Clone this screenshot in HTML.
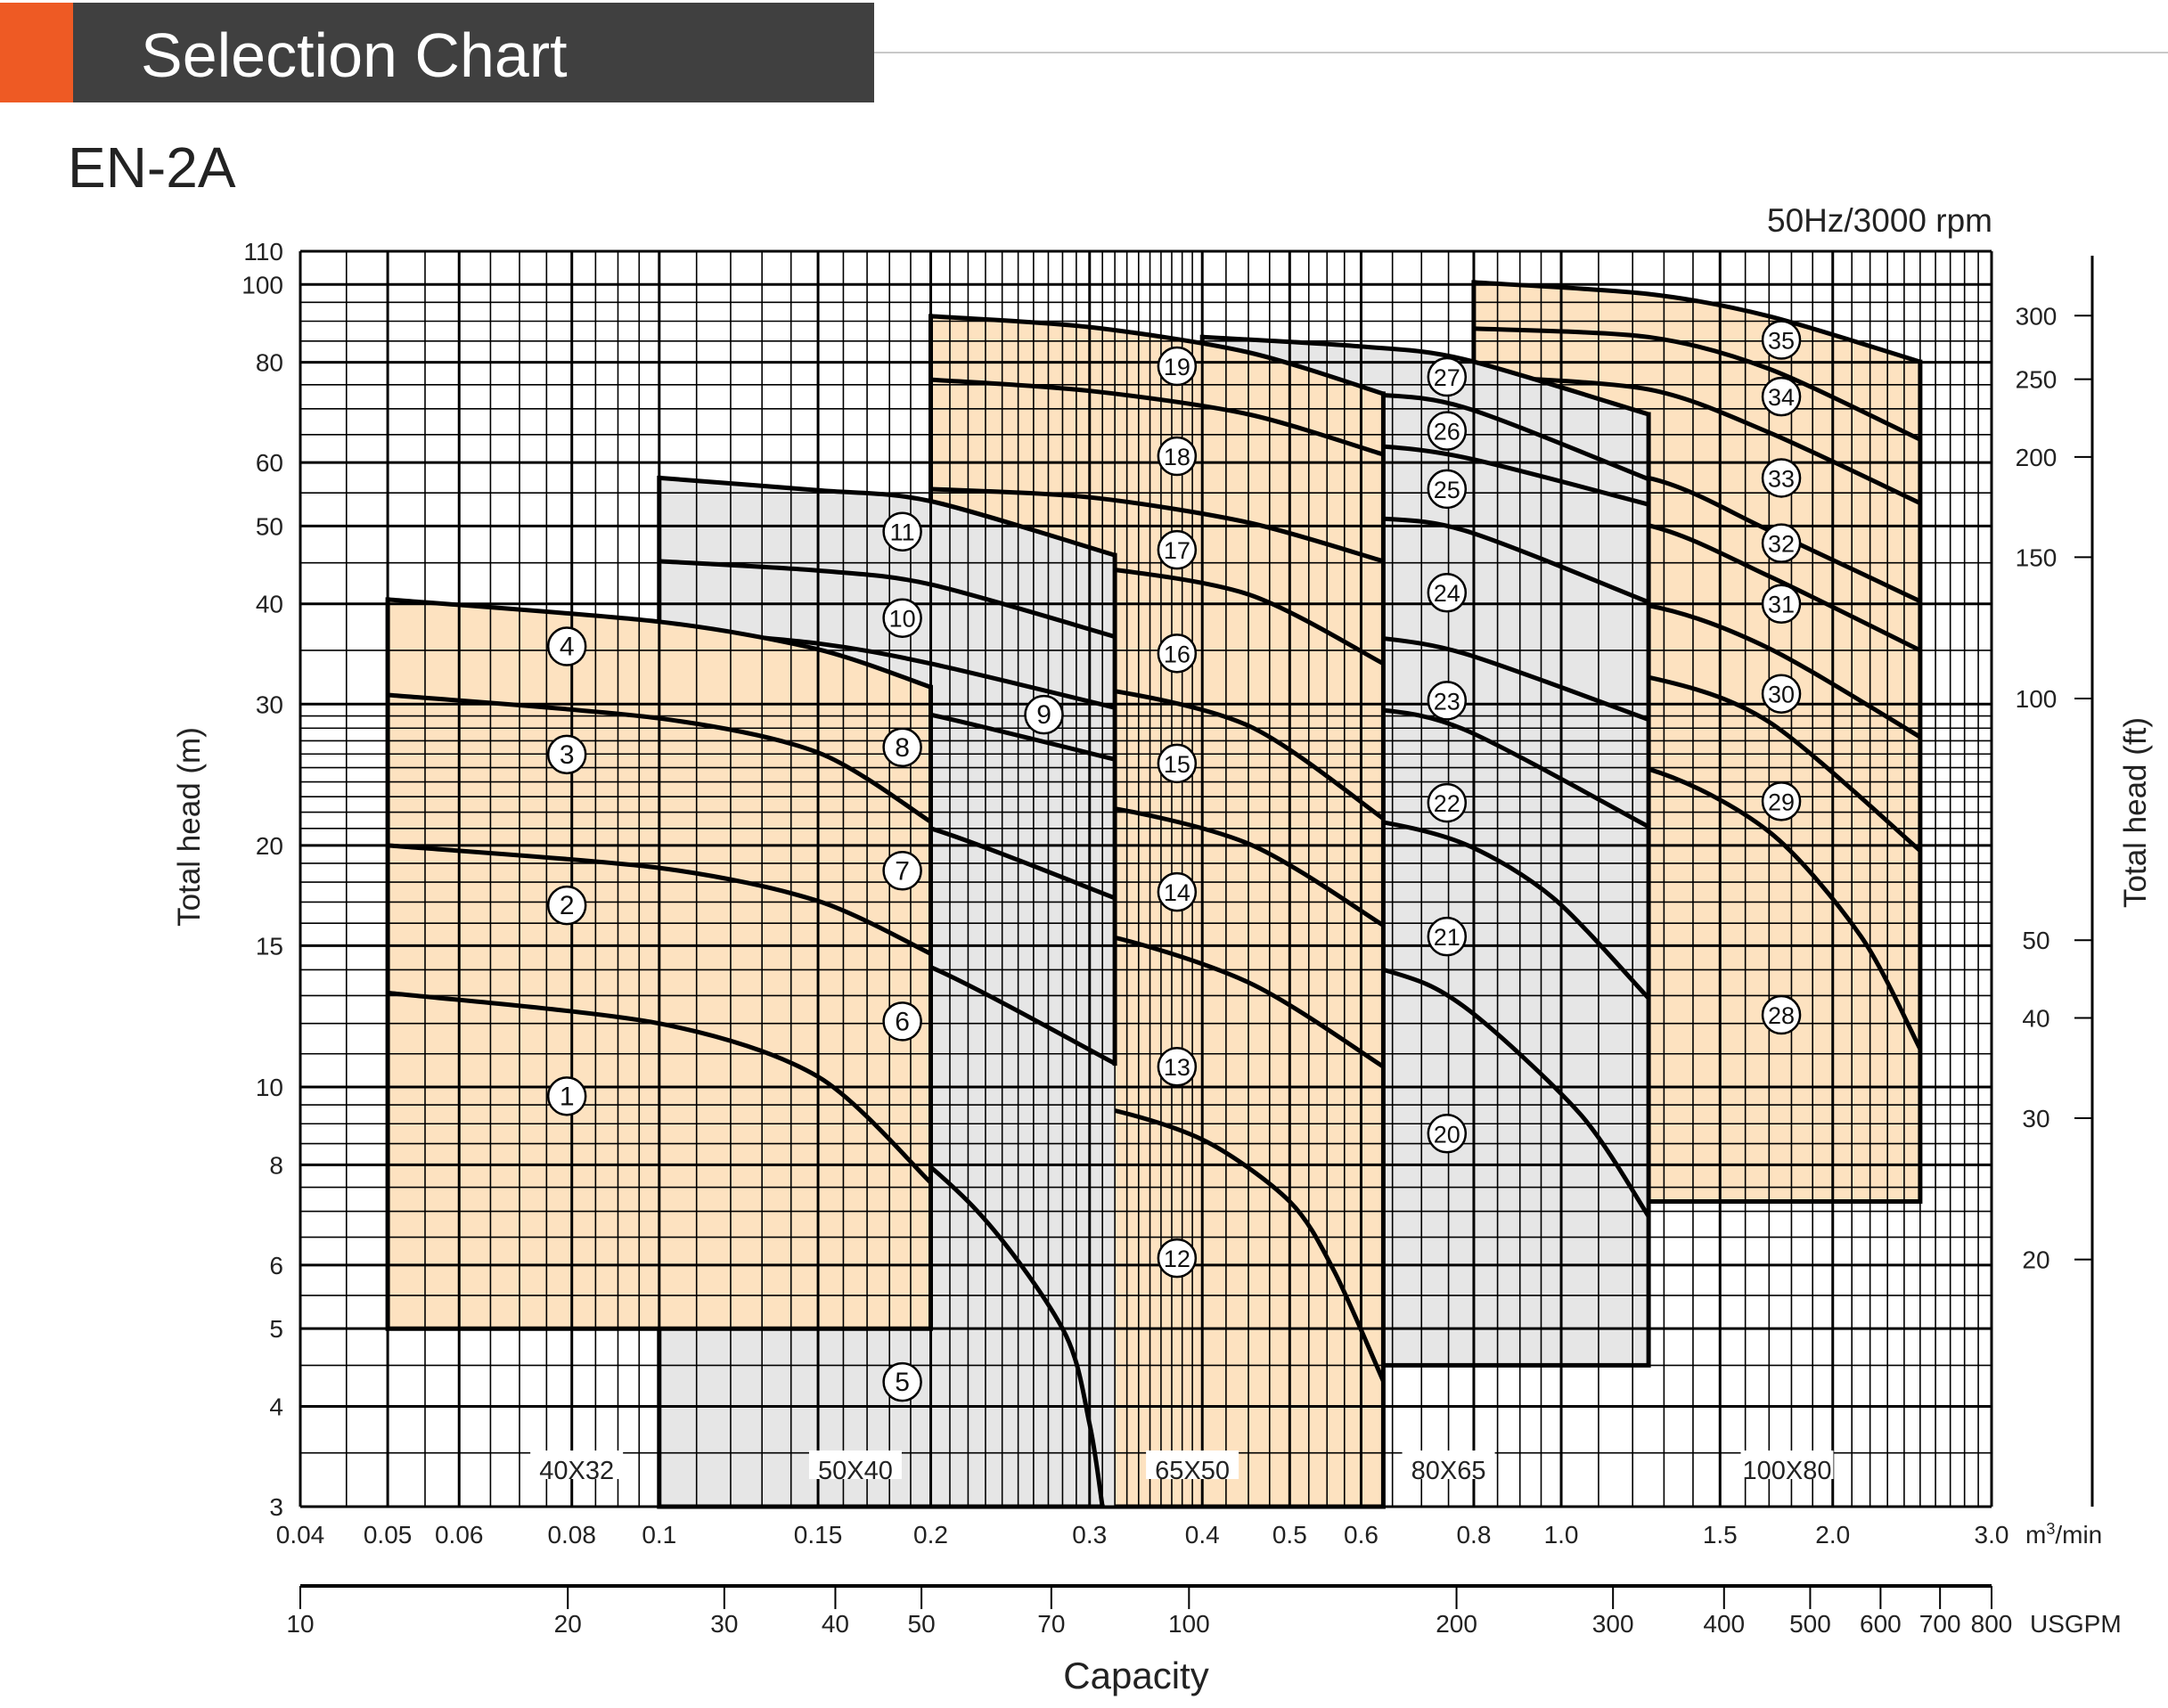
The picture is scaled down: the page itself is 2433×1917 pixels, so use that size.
<!DOCTYPE html>
<html><head><meta charset="utf-8"><title>EN-2A Selection Chart</title>
<style>
html,body{margin:0;padding:0;background:#fff;}
svg{display:block;font-family:"Liberation Sans",Arial,sans-serif;}
</style></head>
<body>
<svg id="chart" xmlns="http://www.w3.org/2000/svg" width="2433" height="1917" viewBox="0 0 2433 1917">
  <rect x="0" y="3" width="82" height="112" fill="#ee5a24"/>
  <rect x="82" y="3" width="899" height="112" fill="#404040"/>
  <line x1="981" y1="59" x2="2433" y2="59" stroke="#c8c8c8" stroke-width="2"/>
  <text x="158" y="86" font-size="70" fill="#fff">Selection Chart</text>
  <text x="76" y="210" font-size="64" fill="#222">EN-2A</text>
  <text x="2236" y="260" font-size="37" fill="#222" text-anchor="end">50Hz/3000 rpm</text>
  <g id="plot"></g>
  <text transform="translate(224,928) rotate(-90)" font-size="35" fill="#222" text-anchor="middle">Total head (m)</text>
  <text transform="translate(2408,912) rotate(-90)" font-size="35" fill="#222" text-anchor="middle">Total head (ft)</text>
  <text x="1275" y="1895" font-size="42" fill="#222" text-anchor="middle">Capacity</text>
  <text x="2273" y="1732" font-size="28" fill="#222">m<tspan dy="-10" font-size="18">3</tspan><tspan dy="10">/min</tspan></text>
  <text x="2278" y="1832" font-size="28" fill="#222">USGPM</text>
</svg>
<script>
// ---------- data ----------
const groupNames = ['40X32','50X40','65X50','80X65','100X80'];
const groupBottom = [5, 3, 3, 4.5, 7.2];
const groupLabelQ = [0.081, 0.165, 0.39, 0.75, 1.78];
const pumpIds = [1,2,3,4,5,6,7,8,9,10,11,12,13,14,15,16,17,18,19,20,21,22,23,24,25,26,27,28,29,30,31,32,33,34,35];
const pumpGroup = [0,0,0,0,1,1,1,1,1,1,1,2,2,2,2,2,2,2,2,3,3,3,3,3,3,3,3,4,4,4,4,4,4,4,4];
const pumpQ = [
 [0.05,0.1,0.15,0.2],[0.05,0.1,0.15,0.2],[0.05,0.1,0.15,0.2],[0.05,0.1,0.15,0.2],
 [0.1,0.15,0.22,0.28,0.30,0.31],
 [0.1,0.15,0.2,0.32],[0.1,0.15,0.2,0.32],[0.1,0.15,0.2,0.32],[0.1,0.15,0.2,0.32],[0.1,0.15,0.2,0.32],[0.1,0.15,0.2,0.32],
 [0.2,0.3,0.4,0.5,0.56,0.635],
 [0.2,0.3,0.45,0.635],[0.2,0.3,0.45,0.635],[0.2,0.3,0.45,0.635],[0.2,0.3,0.45,0.635],[0.2,0.3,0.45,0.635],[0.2,0.3,0.45,0.635],[0.2,0.3,0.45,0.635],
 [0.4,0.635,0.78,1.05,1.25],
 [0.4,0.6,0.78,0.98,1.25],
 [0.4,0.6,0.78,1.25],[0.4,0.6,0.78,1.25],[0.4,0.6,0.78,1.25],[0.4,0.6,0.78,1.25],[0.4,0.6,0.78,1.25],[0.4,0.6,0.78,1.25],
 [0.8,1.25,1.7,2.15,2.5],
 [0.8,1.25,1.7,2.5],[0.8,1.25,1.7,2.5],[0.8,1.25,1.7,2.5],[0.8,1.25,1.7,2.5],[0.8,1.25,1.7,2.5],[0.8,1.25,1.7,2.5],[0.8,1.25,1.7,2.5]
];
const pumpH = [
 [13.1,12.0,10.3,7.6],[20.0,18.75,17.05,14.66],[30.8,28.8,26.1,21.4],[40.5,38.0,35.1,31.5],
 [12.0,10.1,7.2,5.0,3.8,3.0],
 [16.1,15.3,14.1,10.7],[22.8,22.2,21.0,17.2],[31.4,30.8,29.1,25.6],[37.2,35.7,33.7,29.7],[45.2,44.0,42.3,36.4],[57.4,55.4,53.7,46.0],
 [10.1,9.5,8.6,7.2,5.9,4.3],
 [16.1,15.6,13.5,10.6],[23.1,22.5,20.1,15.9],[32.4,31.5,28.2,21.6],[46.0,44.5,41.1,33.7],[55.6,54.3,50.5,45.2],[76.1,73.7,68.9,61.4],[91.3,88.5,82.3,73.1],
 [15.6,14.0,12.6,9.25,6.9],
 [22.6,21.6,20.1,17.2,12.9],
 [30.7,29.7,27.9,21.1],[38.3,36.5,34.7,28.7],[53.1,51.3,49.4,40.2],[64.1,63.1,60.9,53.2],[74.9,73.1,70.3,57.2],[86.0,83.7,80.7,68.9],
 [26.9,24.9,20.8,15.4,11.15],
 [34.4,32.4,28.5,19.7],[41.5,39.8,35.2,27.3],[53.4,50.1,43.3,35.0],[59.9,57.4,49.4,40.3],[76.9,74.0,65.4,53.4],[88.1,86.0,78.5,64.1],[100.6,97.3,91.3,80.1]
];
const labelQ = [0.079,0.079,0.079,0.079,0.186,0.186,0.186,0.186,0.267,0.186,0.186,0.375,0.375,0.375,0.375,0.375,0.375,0.375,0.375,0.747,0.747,0.747,0.747,0.747,0.747,0.747,0.747,1.754,1.754,1.754,1.754,1.754,1.754,1.754,1.754];
const labelH = [9.74,16.84,25.96,35.4,4.29,12.07,18.6,26.5,29.1,38.4,49.2,6.12,10.6,17.5,25.3,34.7,46.7,61.1,79.1,8.75,15.4,22.6,30.3,41.3,55.6,65.7,76.7,12.3,22.7,30.9,40.0,47.6,57.4,72.5,85.3];
const yTicksM = [3,4,5,6,8,10,15,20,30,40,50,60,80,100,110];
const yTicksFt = [20,30,40,50,100,150,200,250,300];
const xTicksQ = [0.04,0.05,0.06,0.08,0.1,0.15,0.2,0.3,0.4,0.5,0.6,0.8,1.0,1.5,2.0,3.0];
const xTickLabels = ['0.04','0.05','0.06','0.08','0.1','0.15','0.2','0.3','0.4','0.5','0.6','0.8','1.0','1.5','2.0','3.0'];
const gpmTicks = [10,20,30,40,50,70,100,200,300,400,500,600,700,800];

// ---------- scales ----------
const PL=337, PR=2235, PT=282, PB=1691;
function X(q){return PL+(PR-PL)*Math.log(q/0.04)/Math.log(3/0.04);}
function Y(h){return PT+(PB-PT)*Math.log(110/h)/Math.log(110/3);}
function XG(g){return PL+(PR-PL)*Math.log(g/10)/Math.log(80);}
const NS='http://www.w3.org/2000/svg';
const plot=document.getElementById('plot');
function mk(tag,attrs,parent){const e=document.createElementNS(NS,tag);for(const k in attrs)e.setAttribute(k,attrs[k]);(parent||plot).appendChild(e);return e;}
function smooth(pts){
  let d='M'+pts[0][0].toFixed(1)+','+pts[0][1].toFixed(1);
  for(let i=0;i<pts.length-1;i++){
    const p0=pts[Math.max(0,i-1)],p1=pts[i],p2=pts[i+1],p3=pts[Math.min(pts.length-1,i+2)];
    const c1=[p1[0]+(p2[0]-p0[0])/7,p1[1]+(p2[1]-p0[1])/7];
    const c2=[p2[0]-(p3[0]-p1[0])/7,p2[1]-(p3[1]-p1[1])/7];
    d+='C'+c1[0].toFixed(1)+','+c1[1].toFixed(1)+' '+c2[0].toFixed(1)+','+c2[1].toFixed(1)+' '+p2[0].toFixed(1)+','+p2[1].toFixed(1);
  }
  return d;
}
const COL=['#fde2c0','#e6e6e6','#fde2c0','#e6e6e6','#fde2c0'];

// ---------- groups (drawn back to front) ----------
for(let g=4;g>=0;g--){
  const layer=mk('g',{});
  
  
  const idx=[];
  for(let i=0;i<pumpIds.length;i++) if(pumpGroup[i]===g) idx.push(i);
  const yb=Y(groupBottom[g]);
  idx.forEach(i=>{
    const pts=pumpQ[i].map((q,k)=>[X(q),Y(pumpH[i][k])]);
    const last=pts[pts.length-1];
    const area=mk('path',{d:smooth(pts)+'L'+last[0].toFixed(1)+','+yb.toFixed(1)+'L'+pts[0][0].toFixed(1)+','+yb.toFixed(1)+'Z',fill:COL[g],stroke:'none'},layer);
    
    
  });
  idx.forEach(i=>{
    const pts=pumpQ[i].map((q,k)=>[X(q),Y(pumpH[i][k])]);
    const c=mk('path',{d:smooth(pts),fill:'none',stroke:'#000','stroke-width':5},layer);
    
    
  });
  const sorted=idx.slice().sort((a,b)=>pumpH[b][0]-pumpH[a][0]);
  let edge='';
  for(let k=0;k<sorted.length-1;k++){
    const a=sorted[k],b=sorted[k+1];
    const qa=pumpQ[a][pumpQ[a].length-1],qb=pumpQ[b][pumpQ[b].length-1];
    if(Math.abs(qa-qb)/qa<0.01){
      edge+='M'+X(qa).toFixed(1)+','+Y(pumpH[a][pumpH[a].length-1]).toFixed(1)+'V'+Y(pumpH[b][pumpH[b].length-1]).toFixed(1);
    }
  }
  const low=sorted[sorted.length-1],top=sorted[0];
  const ql=pumpQ[low][pumpQ[low].length-1],hl=pumpH[low][pumpH[low].length-1];
  if(hl>groupBottom[g]*1.01) edge+='M'+X(ql).toFixed(1)+','+Y(hl).toFixed(1)+'V'+yb.toFixed(1);
  edge+='M'+X(ql).toFixed(1)+','+yb.toFixed(1)+'H'+X(pumpQ[top][0]).toFixed(1)+'V'+Y(pumpH[top][0]).toFixed(1);
  const ed=mk('path',{d:edge,fill:'none',stroke:'#000','stroke-width':5,'stroke-linecap':'square'},layer);
  
  
}

// ---------- grid ----------
const grid=mk('g',{stroke:'#000'});


const vlines=[];
for(let v=40;v<=100;v+=5) vlines.push(v/1000);
for(let v=11;v<=40;v++) vlines.push(v/100);
for(let v=425;v<=600;v+=25) vlines.push(v/1000);
for(let v=65;v<=100;v+=5) vlines.push(v/100);
for(let v=11;v<=30;v++) vlines.push(v/10);
vlines.forEach(q=>{
  const major=xTicksQ.some(t=>Math.abs(t-q)<1e-6);
  const l=mk('line',{x1:X(q),x2:X(q),y1:PT,y2:PB,'stroke-width':major?3:1.6},grid);
  
  
});
const hlines=[];
for(let v=30;v<=100;v+=5) hlines.push(v/10);
for(let v=11;v<=30;v++) hlines.push(v);
for(let v=35;v<=100;v+=5) hlines.push(v);
hlines.push(110);
hlines.forEach(h=>{
  const major=yTicksM.indexOf(h)>=0;
  const l=mk('line',{x1:PL,x2:PR,y1:Y(h),y2:Y(h),'stroke-width':major?3:1.6},grid);
  
  
});

// ---------- axes labels ----------
yTicksM.forEach(v=>{
  const t=mk('text',{x:318,y:Y(v)+10,'font-size':28,'text-anchor':'end',fill:'#222'});
  t.textContent=String(v);
  
  
});
xTicksQ.forEach((q,i)=>{
  const t=mk('text',{x:X(q),y:1732,'font-size':28,'text-anchor':'middle',fill:'#222'});
  t.textContent=xTickLabels[i];
  
  
});
const gl=mk('line',{x1:PL,x2:PR,y1:1780,y2:1780,stroke:'#000','stroke-width':4});


gpmTicks.forEach(g=>{
  const tk=mk('line',{x1:XG(g),x2:XG(g),y1:1780,y2:1806,stroke:'#000','stroke-width':2});
  
  
  const t=mk('text',{x:XG(g),y:1832,'font-size':28,'text-anchor':'middle',fill:'#222'});
  t.textContent=String(g);
  
  
});
const fl=mk('line',{x1:2348,x2:2348,y1:287,y2:PB,stroke:'#000','stroke-width':3});


yTicksFt.forEach(f=>{
  const y=Y(f/3.2808);
  const tk=mk('line',{x1:2328,x2:2348,y1:y,y2:y,stroke:'#000','stroke-width':2});
  
  
  const t=mk('text',{x:2285,y:y+10,'font-size':28,'text-anchor':'middle',fill:'#222'});
  t.textContent=String(f);
  
  
});

// ---------- group size labels ----------
groupNames.forEach((n,i)=>{
  const x=X(groupLabelQ[i]);
  const bg=mk('rect',{x:x-52,y:1628,width:104,height:32,fill:'#fff'});
  
  
  const t=mk('text',{x:x,y:1660,'font-size':29,'text-anchor':'middle',fill:'#222'});
  t.textContent=n;
  
  
});

// ---------- pump number markers ----------
pumpIds.forEach((id,i)=>{
  const cx=X(labelQ[i]),cy=Y(labelH[i]);
  const c=mk('circle',{cx:cx,cy:cy,r:21,fill:'#fff',stroke:'#000','stroke-width':2.5});
  
  
  const t=mk('text',{x:cx,y:cy+10,'font-size':id>9?27:30,'text-anchor':'middle',fill:'#111'});
  t.textContent=String(id);
  
  
});
</script>
</body></html>
